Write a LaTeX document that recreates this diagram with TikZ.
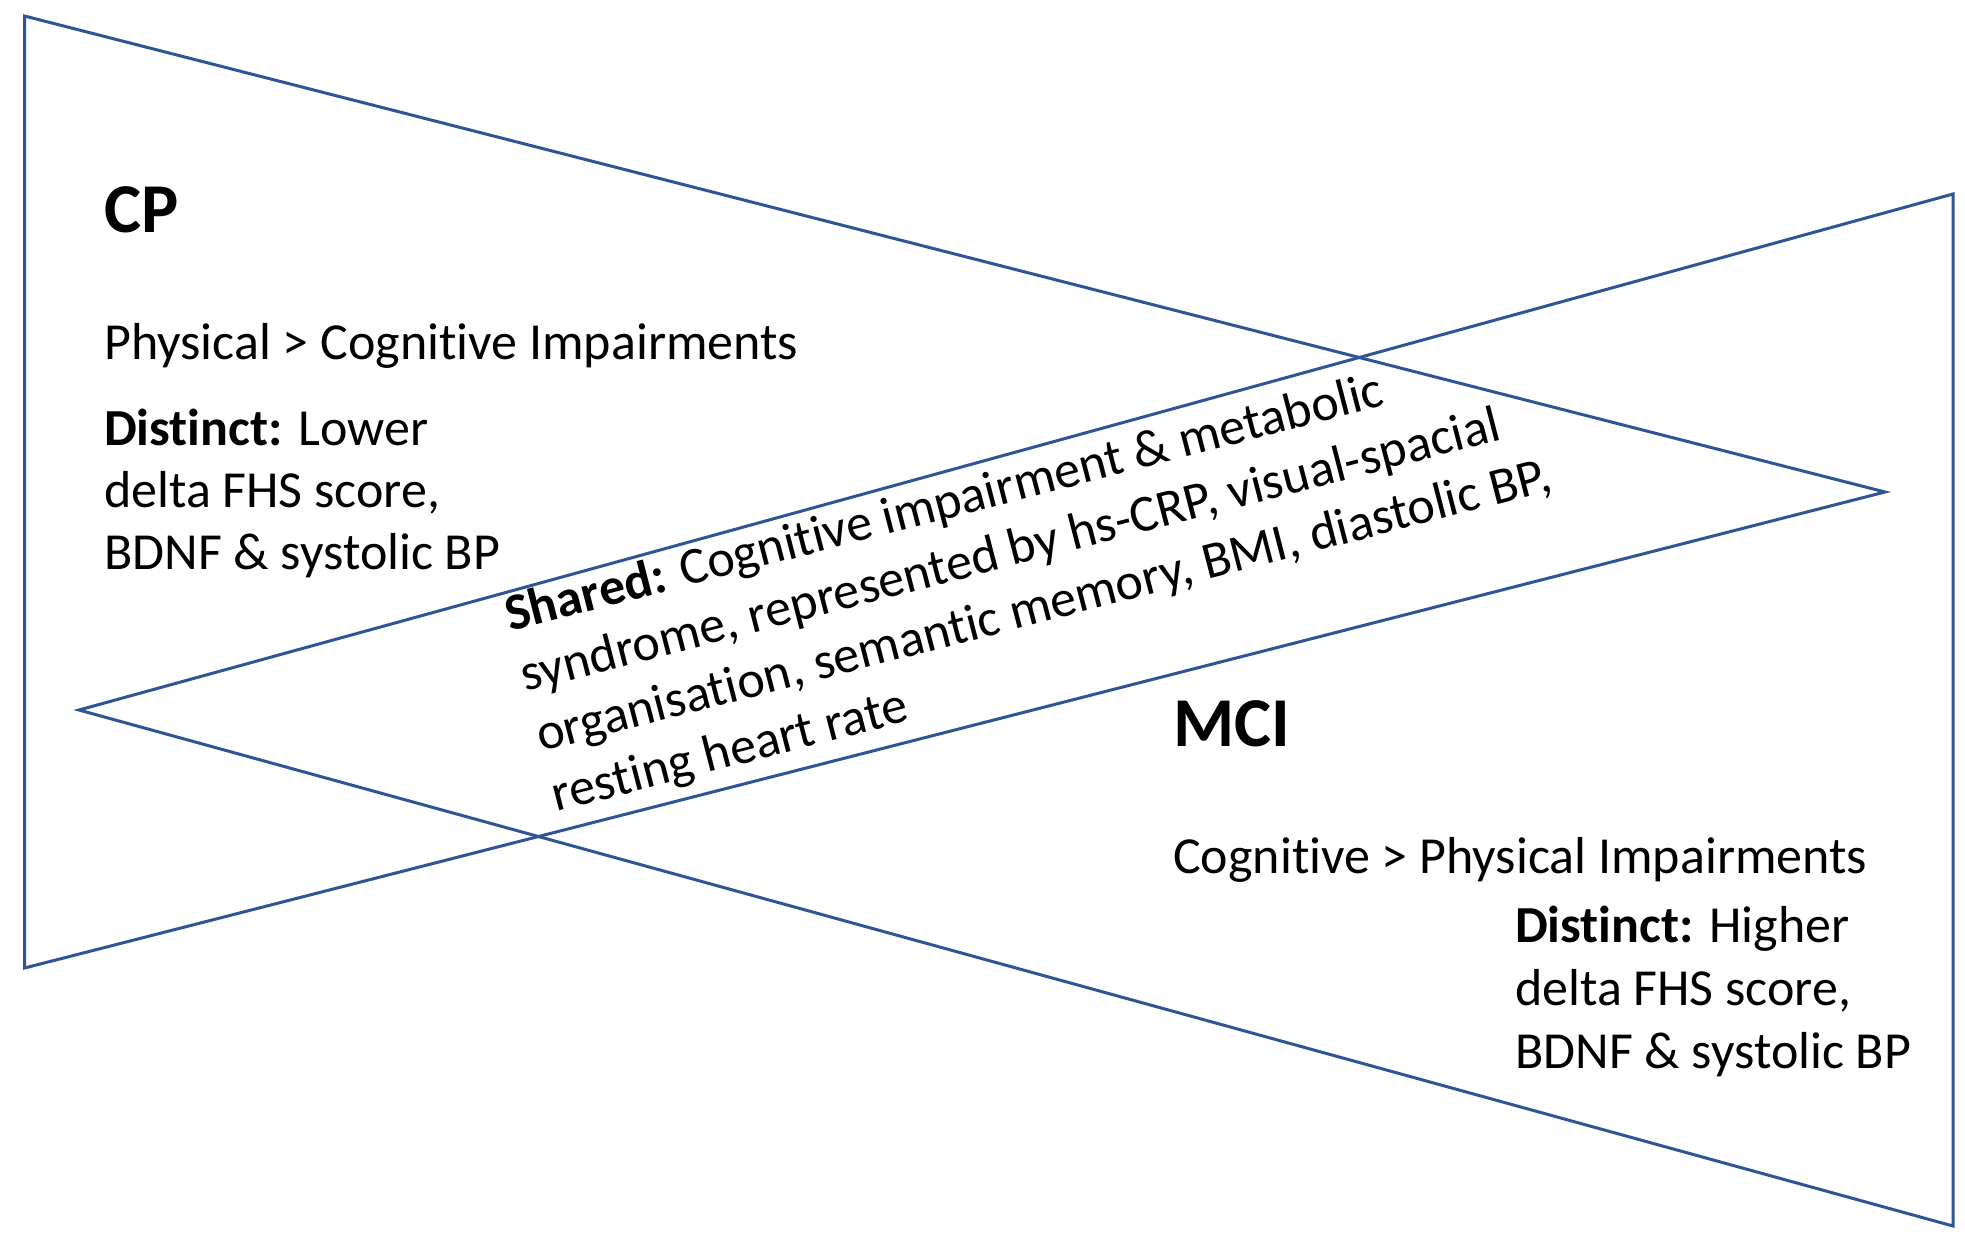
\documentclass[tikz,border=0pt]{standalone}
\usepackage{fontspec}
\setmainfont{Carlito}[Ligatures=NoCommon]
\definecolor{edgeblue}{RGB}{47,85,151}
\tikzset{
  tri/.style={draw=edgeblue, line width=3pt, line join=miter},
  body/.style={anchor=base west, inner sep=0pt, font=\fontsize{52}{62}\selectfont},
  title/.style={anchor=base west, inner sep=0pt, font=\fontsize{70}{80}\selectfont\bfseries},
  shared/.style={body, rotate=14.5, align=left}
}
\begin{document}
\begin{tikzpicture}[x=1pt,y=-1pt]
\fill[white] (0,0) rectangle (1965,1237);
\useasboundingbox (0,0) rectangle (1965,1237);
% CP triangle
\coordinate (cpTL) at (24.5,16);
\coordinate (cpBL) at (24.5,968);
\coordinate (cpApex) at (1885,492);
% MCI triangle
\coordinate (mciTR) at (1953,194);
\coordinate (mciBR) at (1953,1226);
\coordinate (mciApex) at (79,710);
\draw[tri] (cpTL) -- (cpApex) -- (cpBL) -- cycle;
\draw[tri] (mciTR) -- (mciApex) -- (mciBR) -- cycle;
% CP texts
\node[title] (cpT) at (104,232) {CP};
\node[body] (cp1) at (104,359) {Physical > Cognitive Impairments};
\node[body] (cp2) at (104,445) {\textbf{Distinct:} Lower};
\node[body] (cp3) at (104,507) {delta FHS score,};
\node[body] (cp4) at (104,569) {BDNF \& systolic BP};
% MCI texts
\node[title] (mciT) at (1173,746) {MCI};
\node[body] (mci1) at (1173,873) {Cognitive > Physical Impairments};
\node[body] (mci2) at (1515,942) {\textbf{Distinct:} Higher};
\node[body] (mci3) at (1515,1005) {delta FHS score,};
\node[body] (mci4) at (1515,1068) {BDNF \& systolic BP};
% Shared text (anchor = baseline of its last line)
\node[shared] (sh) at (556.5,812) {\textbf{Shared:} Cognitive impairment \& metabolic\\
syndrome, represented by hs-CRP, visual-spacial\\
organisation, semantic memory, BMI, diastolic BP,\\
resting heart rate};
\end{tikzpicture}
\end{document}
